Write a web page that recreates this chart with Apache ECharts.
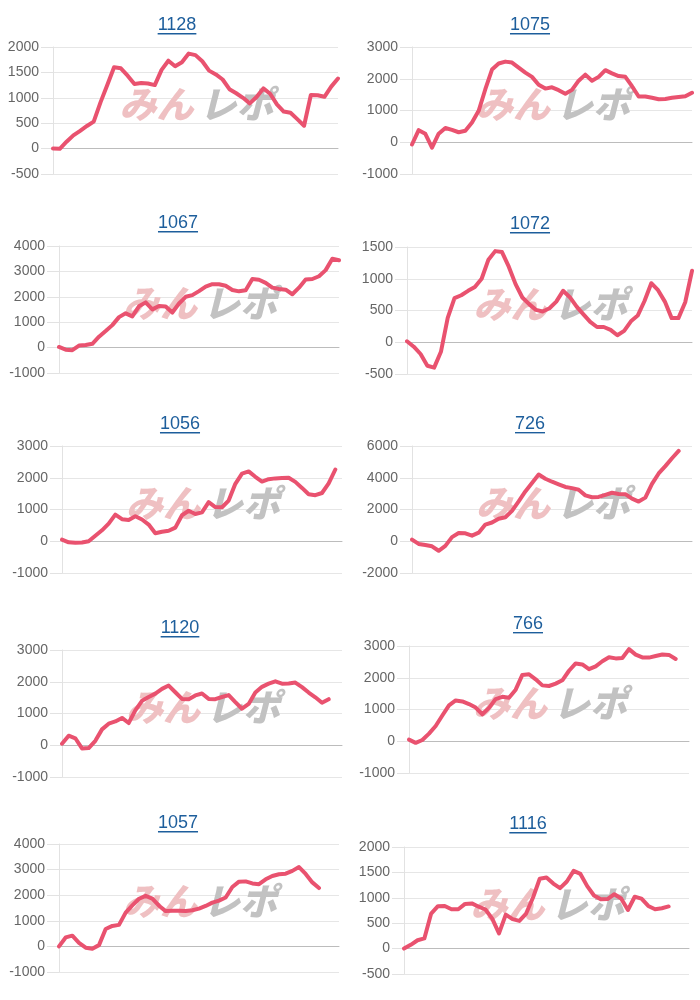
<!DOCTYPE html>
<html><head><meta charset="utf-8">
<script src="https://cdn.jsdelivr.net/npm/echarts@6/dist/echarts.min.js"></script>
<style>html,body{margin:0;padding:0;background:#fff}#c{width:700px;height:1000px}</style>
</head><body><div id="c"></div>
<script>
// ---- data ----
const games = [1,2,3,4,5,6,7,8,9,10,11,12,13,14,15,16,17,18,19,20,21,22,23,24,25,26,27,28,29,30,31,32,33,34,35,36,37,38,39,40,41,42,43];
const titles = ['1128','1075','1067','1072','1056','726','1120','766','1057','1116'];

const s1128 = [0,-5,135,260,350,445,530,910,1250,1600,1580,1435,1270,1290,1280,1250,1550,1730,1620,1700,1870,1840,1720,1535,1460,1360,1170,1090,1000,890,1015,1185,1080,870,730,705,580,450,1055,1050,1020,1220,1380];
const s1075 = [-70,380,265,-170,270,450,390,315,360,620,990,1670,2290,2480,2540,2510,2350,2195,2060,1810,1690,1730,1640,1525,1650,1940,2130,1935,2060,2270,2170,2085,2060,1765,1440,1440,1400,1355,1365,1400,1425,1450,1560];
const s1067 = [25,-80,-100,80,100,150,430,650,885,1200,1350,1230,1625,1780,1505,1640,1620,1380,1735,2000,2065,2225,2400,2495,2495,2435,2270,2215,2255,2700,2670,2550,2360,2305,2280,2100,2360,2680,2700,2810,3050,3500,3440];
const s1072 = [15,-70,-185,-370,-400,-150,385,695,740,810,870,1000,1300,1435,1420,1190,915,705,600,510,485,535,640,810,710,560,440,320,240,240,195,110,180,330,420,650,930,820,640,380,380,630,1125];
const s1056 = [50,-35,-50,-40,0,175,345,555,840,695,670,790,685,525,250,300,330,430,820,960,860,910,1230,1075,1070,1280,1810,2130,2200,2030,1880,1955,1980,1990,2000,1870,1680,1480,1450,1520,1820,2260];
const s726  = [105,-170,-240,-320,-600,-290,260,520,500,350,540,1050,1180,1420,1510,1915,2510,3140,3670,4200,3940,3750,3590,3420,3345,3240,2890,2770,2790,2920,3055,2980,2965,2680,2500,2750,3610,4270,4730,5230,5690];
const s1120 = [50,300,220,-100,-90,140,500,680,750,860,700,1100,1400,1520,1625,1775,1880,1670,1460,1450,1570,1630,1460,1450,1520,1580,1360,1150,1300,1660,1840,1940,2015,1940,1945,1975,1830,1660,1510,1340,1450];
const s766  = [50,-50,40,240,480,810,1130,1285,1255,1170,1060,850,1050,1330,1400,1370,1625,2090,2110,1950,1760,1740,1815,1920,2220,2450,2420,2270,2360,2520,2645,2610,2620,2900,2730,2640,2635,2685,2730,2720,2590];
const s1057 = [0,350,420,140,-50,-90,50,680,800,840,1320,1600,1860,1975,1870,1590,1380,1395,1390,1380,1410,1475,1580,1710,1790,1910,2320,2530,2540,2460,2430,2620,2750,2820,2840,2950,3100,2830,2500,2280];
const s1116 = [0,75,165,200,690,835,840,775,775,880,890,825,770,590,300,670,580,545,690,1000,1375,1400,1280,1190,1320,1530,1470,1230,1045,970,975,1070,985,760,1020,985,840,775,795,830];

const seriesData = [s1128, s1075, s1067, s1072, s1056, s726, s1120, s766, s1057, s1116];
const yMin  = [-500,-1000,-1000,-500,-1000,-2000,-1000,-1000,-1000,-500];
const yMax  = [2000,3000,4000,1500,3000,6000,3000,3000,4000,2000];
const yStep = [500,1000,1000,500,1000,2000,1000,1000,1000,500];

// ---- layout ----
const layout = [
  {l:53, t:47,  w:285, h:127, tx:177, ty:25},
  {l:412,t:47,  w:280, h:127, tx:530, ty:25},
  {l:59, t:246, w:280, h:127, tx:178, ty:223},
  {l:407,t:247, w:285, h:127, tx:530, ty:224},
  {l:62, t:446, w:280, h:127, tx:180, ty:424},
  {l:412,t:446, w:280, h:127, tx:530, ty:424},
  {l:62, t:650, w:280, h:127, tx:180, ty:628},
  {l:409,t:646, w:280, h:127, tx:528, ty:624},
  {l:59, t:844, w:280, h:128, tx:178, ty:823},
  {l:404,t:847, w:285, h:127, tx:528, ty:824}
];

const LABEL_FONT = '"Liberation Sans", Arial, sans-serif';
const mctx = document.createElement('canvas').getContext('2d');
mctx.font = '18px "Liberation Sans", Arial, sans-serif';

const grids = [], xAxes = [], yAxes = [], series = [], graphics = [];
layout.forEach((p, i) => {
  grids.push({left: p.l, top: p.t, width: p.w, height: p.h, containLabel: false});
  xAxes.push({
    type: 'category', gridIndex: i, data: games, boundaryGap: false,
    axisLabel: {show: false}, axisTick: {show: false}, splitLine: {show: false},
    axisLine: {show: true, onZero: true, lineStyle: {color: '#bcbcbc', width: 1}}
  });
  yAxes.push({
    type: 'value', gridIndex: i, min: yMin[i], max: yMax[i], interval: yStep[i],
    axisLine: {show: true, lineStyle: {color: '#e2e2e2'}},
    axisTick: {show: true, length: 12, lineStyle: {color: '#e2e2e2'}},
    splitLine: {show: true, lineStyle: {color: '#e6e6e6'}},
    axisLabel: {color: '#666', fontSize: 14, fontFamily: LABEL_FONT, margin: 14,
                formatter: v => String(v)}
  });
  series.push({
    type: 'line', xAxisIndex: i, yAxisIndex: i, data: seriesData[i],
    symbol: 'none', smooth: false, z: 3,
    lineStyle: {color: '#e9526f', width: 4, join: 'round', cap: 'round'}
  });
  // title (link style)
  const tw = mctx.measureText(titles[i]).width;
  graphics.push({
    type: 'text', x: p.tx, y: p.ty, z: 5,
    style: {text: titles[i], fill: '#1d5e9c', font: '18px "Liberation Sans", Arial, sans-serif',
            textAlign: 'center', textVerticalAlign: 'middle'}
  });
  graphics.push({
    type: 'rect', x: p.tx - tw / 2, y: p.ty + 8, z: 5,
    shape: {width: tw, height: 1.4}, style: {fill: '#1d5e9c'}
  });
  // watermark
  const cx = p.l + p.w / 2, cy = p.t + 57;
  graphics.push({
    type: 'text', x: cx - 2, y: cy, z: 1, silent: true,
    style: {text: 'みん', fill: '#efc0c2', textAlign: 'right', textVerticalAlign: 'middle',
            font: 'italic 900 37px "Noto Sans CJK JP", sans-serif'}
  });
  graphics.push({
    type: 'text', x: cx + 4, y: cy, z: 1, silent: true,
    style: {text: 'レポ', fill: '#c2c2c2', textAlign: 'left', textVerticalAlign: 'middle',
            font: 'italic 900 37px "Noto Sans CJK JP", sans-serif'}
  });
});

const chart = echarts.init(document.getElementById('c'), null, {renderer: 'canvas'});
chart.setOption({
  animation: false,
  backgroundColor: '#fff',
  grid: grids, xAxis: xAxes, yAxis: yAxes, series: series,
  graphic: {elements: graphics}
});
</script>
</body></html>
